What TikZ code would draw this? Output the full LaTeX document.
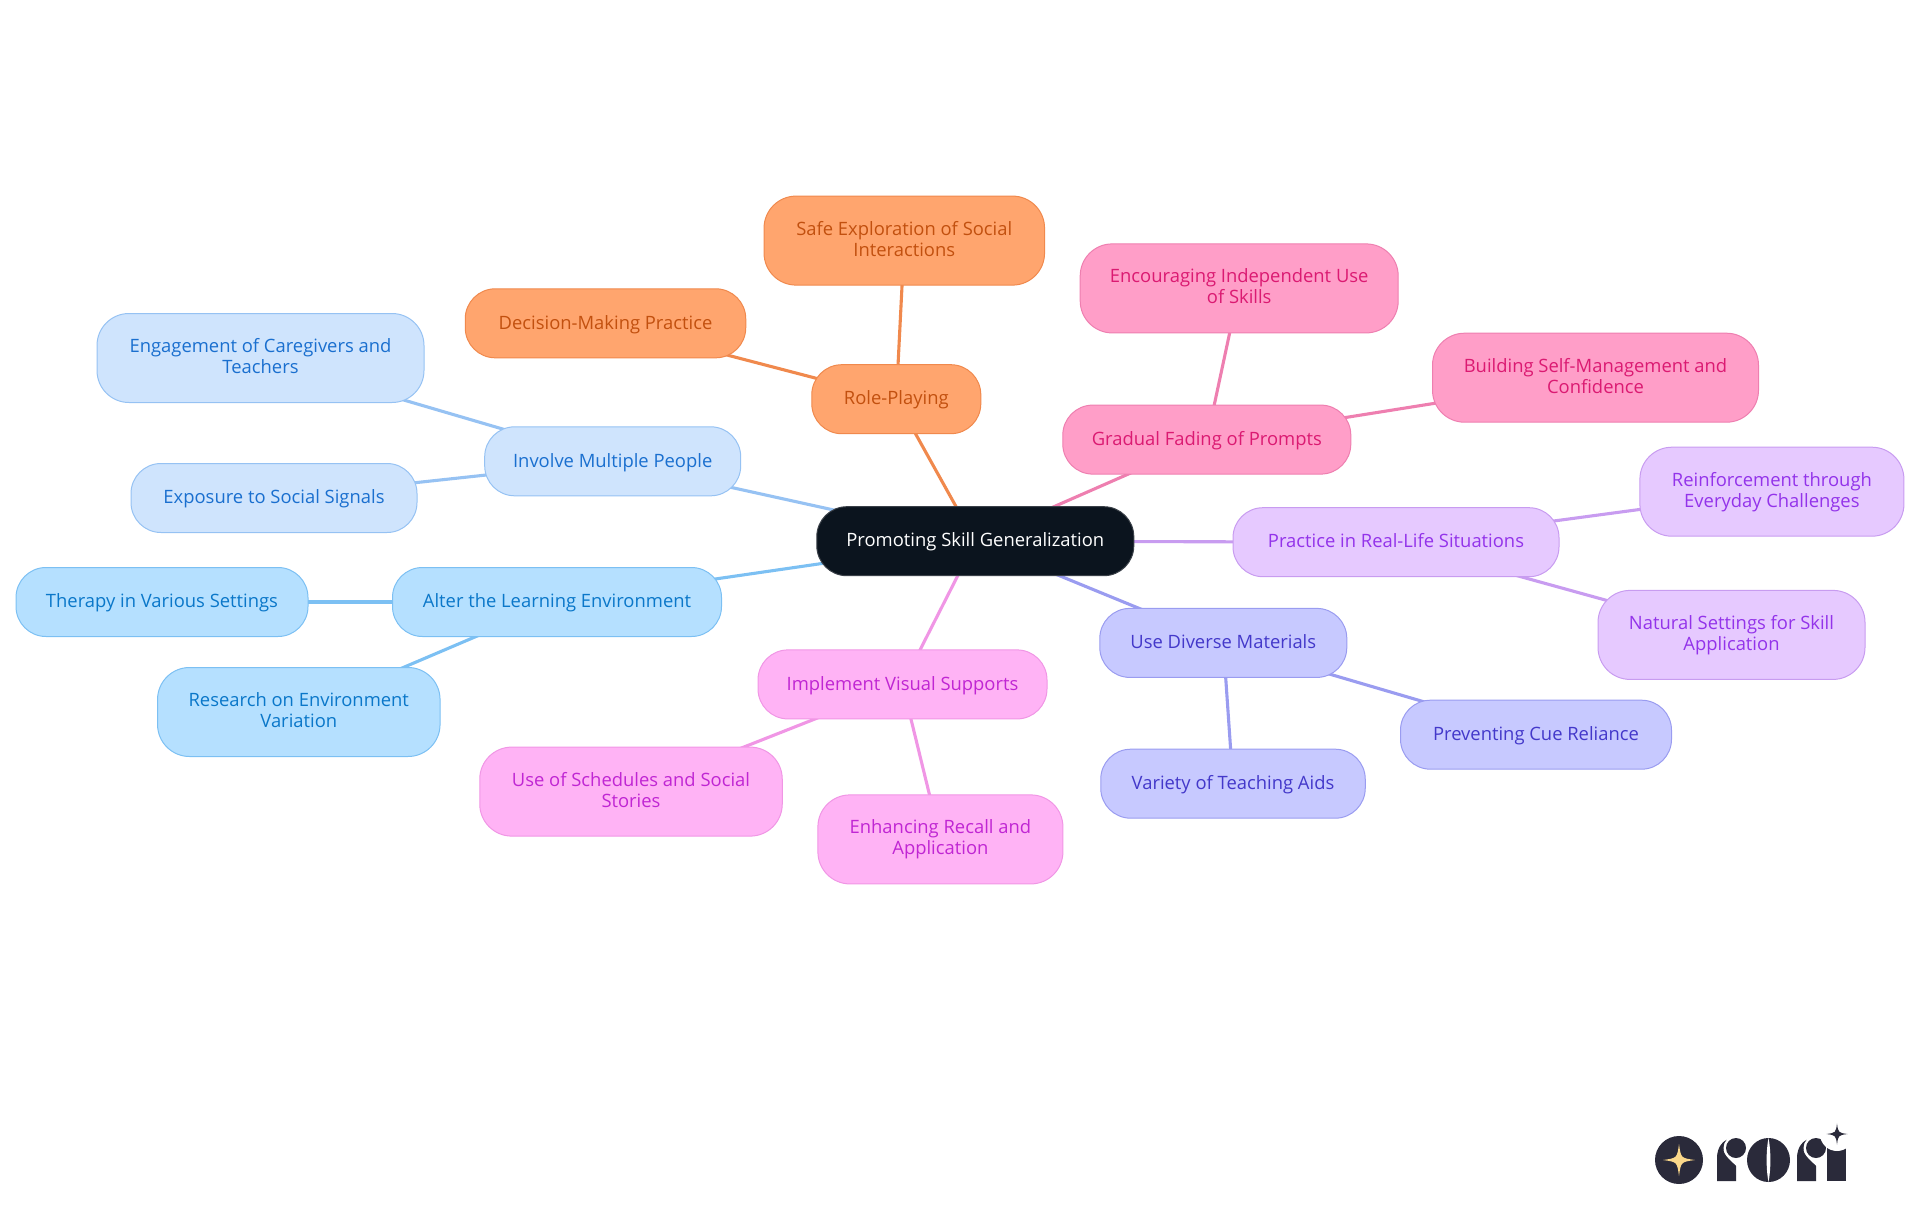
\documentclass[tikz,border=0pt]{standalone}
\usepackage{fontspec}
\setmainfont{Open Sans}
\usetikzlibrary{backgrounds}
\definecolor{cFill}{HTML}{0B141E}\definecolor{cEdge}{HTML}{3A4048}
\definecolor{oFill}{HTML}{FFA56E}\definecolor{oLine}{HTML}{F0894D}\definecolor{oText}{HTML}{C2500F}
\definecolor{pFill}{HTML}{FF9EC8}\definecolor{pLine}{HTML}{EE7FB0}\definecolor{pText}{HTML}{DB1A72}
\definecolor{vFill}{HTML}{E6C9FF}\definecolor{vLine}{HTML}{C89CF0}\definecolor{vText}{HTML}{9333EA}
\definecolor{iFill}{HTML}{C7C9FF}\definecolor{iLine}{HTML}{9A9CF0}\definecolor{iText}{HTML}{4338CA}
\definecolor{mFill}{HTML}{FFB3F5}\definecolor{mLine}{HTML}{F096E5}\definecolor{mText}{HTML}{C026D3}
\definecolor{sFill}{HTML}{B5E0FF}\definecolor{sLine}{HTML}{7CC0F3}\definecolor{sText}{HTML}{0A77C9}
\definecolor{bFill}{HTML}{CFE4FD}\definecolor{bLine}{HTML}{96C2F3}\definecolor{bText}{HTML}{1A6FCF}
\definecolor{logoDark}{HTML}{2A2A3A}\definecolor{logoGold}{HTML}{FBD88A}
\newcommand{\mmstrut}{\rule[-5.3pt]{0pt}{22pt}}
\newcommand{\mmstrutb}{\rule[-3.8pt]{0pt}{22pt}}
\tikzset{
  mm/.style={rectangle,rounded corners=30pt,line width=1pt,inner sep=0pt,align=center,
    font=\fontsize{18.4}{21}\selectfont},
  one/.style={minimum height=69pt,
    execute at begin node=\mmstrut,execute at end node=\mmstrut},
  two/.style={minimum height=89pt,rounded corners=32pt,
    execute at begin node=\mmstrutb,execute at end node=\mmstrutb},
  orangeN/.style={mm,fill=oFill,draw=oLine,text=oText},
  pinkN/.style={mm,fill=pFill,draw=pLine,text=pText},
  violetN/.style={mm,fill=vFill,draw=vLine,text=vText},
  indigoN/.style={mm,fill=iFill,draw=iLine,text=iText},
  magentaN/.style={mm,fill=mFill,draw=mLine,text=mText},
  skyN/.style={mm,fill=sFill,draw=sLine,text=sText},
  blueN/.style={mm,fill=bFill,draw=bLine,text=bText},
  link/.style={line width=3.1pt},
}
\newcommand{\mmsparkle}[4]{\fill[#4] (#1,#2-#3) .. controls (#1+0.12*#3,#2-0.12*#3) .. (#1+#3,#2)
  .. controls (#1+0.12*#3,#2+0.12*#3) .. (#1,#2+#3)
  .. controls (#1-0.12*#3,#2+0.12*#3) .. (#1-#3,#2)
  .. controls (#1-0.12*#3,#2-0.12*#3) .. cycle;}
\newcommand{\mmr}[1]{%
  \fill[logoDark] (#1+0,1181) -- (#1+0,1158) .. controls (#1+0,1147) and (#1+6,1139) .. (#1+16,1138) -- (#1+19,1138) -- (#1+19,1181) -- cycle;
  \fill[white] (#1+19,1148) circle[radius=12.5pt];
  \fill[white] (#1+6.6,1150) .. controls (#1+8,1156) and (#1+14,1161) .. (#1+19.5,1166) -- (#1+30,1160) -- (#1+19,1148) -- cycle;
  \fill[logoDark] (#1+19,1148) circle[radius=10pt];}
\begin{document}
\begin{tikzpicture}[x=1pt,y=-1pt]
\useasboundingbox (0,0) rectangle (1920,1215);
\node[mm,fill=cFill,draw=cEdge,text=white,one,minimum width=317pt] (root) at (975.3,541.2) {Promoting Skill Generalization};
\node[orangeN,one,minimum width=169pt] (role) at (896.3,399.2) {Role-Playing};
\node[orangeN,two,minimum width=280.5pt] (safe) at (904.3,240.6) {Safe Exploration of Social\\Interactions};
\node[orangeN,one,minimum width=280.5pt] (deci) at (605.5,323.3) {Decision-Making Practice};
\node[pinkN,one,minimum width=288pt] (grad) at (1206.8,439.6) {Gradual Fading of Prompts};
\node[pinkN,two,minimum width=318pt] (enco) at (1239.2,288.4) {Encouraging Independent Use\\of Skills};
\node[pinkN,two,minimum width=326pt] (buil) at (1595.5,377.7) {Building Self-Management and\\Confidence};
\node[violetN,one,minimum width=326pt] (prac) at (1396,542.2) {Practice in Real-Life Situations};
\node[violetN,two,minimum width=264pt] (rein) at (1771.9,491.7) {Reinforcement through\\Everyday Challenges};
\node[violetN,two,minimum width=267pt] (natu) at (1731.5,634.9) {Natural Settings for Skill\\Application};
\node[indigoN,one,minimum width=247pt] (dive) at (1223.3,642.9) {Use Diverse Materials};
\node[indigoN,one,minimum width=271pt] (prev) at (1536,734.7) {Preventing Cue Reliance};
\node[indigoN,one,minimum width=264.5pt] (vari) at (1233,783.7) {Variety of Teaching Aids};
\node[magentaN,one,minimum width=289pt] (impl) at (902.5,684.4) {Implement Visual Supports};
\node[magentaN,two,minimum width=302.5pt] (sche) at (631,791.6) {Use of Schedules and Social\\Stories};
\node[magentaN,two,minimum width=245pt] (enha) at (940.4,839.4) {Enhancing Recall and\\Application};
\node[skyN,one,minimum width=329pt] (alte) at (557,602) {Alter the Learning Environment};
\node[skyN,one,minimum width=292pt] (ther) at (162,602) {Therapy in Various Settings};
\node[skyN,two,minimum width=282.5pt] (rese) at (298.8,712) {Research on Environment\\Variation};
\node[blueN,one,minimum width=256pt] (invo) at (612.7,461.3) {Involve Multiple People};
\node[blueN,two,minimum width=327pt] (enga) at (260.5,358) {Engagement of Caregivers and\\Teachers};
\node[blueN,one,minimum width=286pt] (expo) at (274,498) {Exposure to Social Signals};
\begin{scope}[on background layer]
\draw[link,oLine] (root.center) -- (role.center);
\draw[link,oLine] (role.center) -- (safe.center);
\draw[link,oLine] (role.center) -- (deci.center);
\draw[link,pLine] (root.center) -- (grad.center);
\draw[link,pLine] (grad.center) -- (enco.center);
\draw[link,pLine] (grad.center) -- (buil.center);
\draw[link,vLine] (root.center) -- (prac.center);
\draw[link,vLine] (prac.center) -- (rein.center);
\draw[link,vLine] (prac.center) -- (natu.center);
\draw[link,iLine] (root.center) -- (dive.center);
\draw[link,iLine] (dive.center) -- (prev.center);
\draw[link,iLine] (dive.center) -- (vari.center);
\draw[link,mLine] (root.center) -- (impl.center);
\draw[link,mLine] (impl.center) -- (sche.center);
\draw[link,mLine] (impl.center) -- (enha.center);
\draw[link,sLine] (root.center) -- (alte.center);
\draw[link,sLine] (alte.center) -- (ther.center);
\draw[link,sLine] (alte.center) -- (rese.center);
\draw[link,bLine] (root.center) -- (invo.center);
\draw[link,bLine] (invo.center) -- (enga.center);
\draw[link,bLine] (invo.center) -- (expo.center);
\end{scope}
% logo
\fill[logoDark] (1679,1160) circle[radius=24pt];
\mmsparkle{1679}{1160}{16}{logoGold}
\mmr{1717}
\fill[logoDark] (1768.5,1160) ellipse[x radius=21.5pt,y radius=22pt];
\fill[white] (1768.5,1138) .. controls (1766,1150) and (1766,1170) .. (1768.5,1182) .. controls (1771,1170) and (1771,1150) .. cycle;
\mmr{1797}
\fill[logoDark] (1827,1146) rectangle (1846,1181);
\fill[white] (1837,1134) circle[radius=17pt];
\mmsparkle{1837}{1134}{10.5}{logoDark}
\end{tikzpicture}
\end{document}
